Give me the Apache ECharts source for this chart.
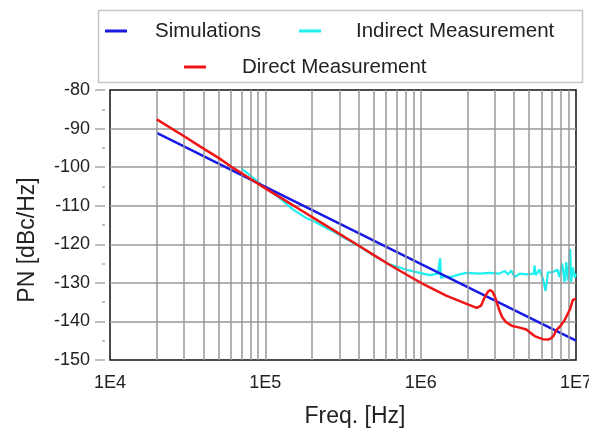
<!DOCTYPE html>
<html>
<head>
<meta charset="utf-8">
<script src="https://cdn.jsdelivr.net/npm/echarts@6/dist/echarts.min.js"></script>
<style>html,body{margin:0;padding:0;background:#fff}#c{width:589px;height:431px}</style>
</head>
<body>
<div id="c"></div>
<script>
// ---- data ----
const xTickLabels = ['1E4', '1E5', '1E6', '1E7'];
const yTicks = [-150, -140, -130, -120, -110, -100, -90, -80];

const simFreq = [2e4, 1e5, 1e6, 1e7];
const simPN   = [-91.1, -105.1, -125.1, -145.0];

const directFreq = [2.0e4, 3.0e4, 4.0e4, 5.0e4, 6.2e4, 8.0e4, 1.0e5, 1.3e5, 1.75e5, 2.36e5,
  3.0e5, 3.86e5, 5.0e5, 6.3e5, 8.9e5, 1.04e6, 1.46e6, 2.01e6, 2.3e6, 2.45e6,
  2.6e6, 2.72e6, 2.81e6, 2.9e6, 3.0e6, 3.1e6, 3.2e6, 3.35e6, 3.55e6, 3.9e6,
  4.34e6, 4.79e6, 5.41e6, 6.12e6, 6.6e6, 6.92e6, 7.2e6, 7.46e6, 8.0e6, 8.44e6,
  9.18e6, 9.53e6, 1.0e7];
const directPN = [-87.6, -92.0, -95.2, -97.6, -100.2, -103.0, -105.5, -108.3, -111.5, -114.7,
  -117.3, -120.0, -122.8, -125.3, -128.8, -130.3, -133.3, -135.6, -136.5, -135.9,
  -133.5, -132.2, -131.9, -132.3, -133.5, -135.2, -137.0, -138.9, -140.2, -141.2,
  -141.6, -142.1, -143.8, -144.6, -144.7, -144.4, -143.6, -142.3, -141.0, -139.7,
  -136.7, -134.5, -134.1];

const indirectFreq = [7.0e4, 7.9e4, 9.7e4, 1.2e5, 1.51e5, 1.84e5, 2.1e5, 2.4e5, 2.8e5, 3.3e5,
  3.9e5, 4.6e5, 5.44e5, 6.3e5, 8.1e5, 9.86e5, 1.14e6, 1.29e6, 1.32e6, 1.335e6,
  1.35e6, 1.46e6, 1.57e6, 1.78e6, 1.97e6, 2.39e6, 2.76e6, 3.22e6, 3.47e6, 3.65e6,
  3.83e6, 4.02e6, 4.34e6, 4.79e6, 5.35e6, 5.41e6, 5.5e6, 5.82e6, 6.12e6, 6.37e6,
  6.6e6, 7.1e6, 7.6e6, 7.8e6, 8.15e6, 8.44e6, 8.65e6, 8.87e6, 9.18e6, 9.3e6,
  9.53e6, 9.8e6, 1.0e7];
const indirectPN = [-100.3, -102.0, -105.0, -107.6, -111.0, -113.2, -114.2, -115.5, -116.9, -118.6,
  -120.2, -122.0, -123.8, -125.2, -126.6, -127.4, -128.0, -127.6, -127.8, -123.6,
  -128.7, -128.3, -128.5, -127.8, -127.4, -127.6, -127.4, -127.6, -126.9, -127.8,
  -126.8, -128.5, -127.6, -127.8, -127.6, -125.5, -128.0, -126.6, -128.9, -132.1,
  -127.3, -127.2, -126.6, -128.5, -125.0, -129.8, -124.6, -129.4, -121.2, -129.8,
  -126.0, -128.6, -127.6];

const seriesNames = ['Simulations', 'Indirect Measurement', 'Direct Measurement'];

// minor log grid positions (2..9 within each decade)
const decades = [1e4, 1e5, 1e6];
const minorMultipliers = [2, 3, 4, 5, 6, 7, 8, 9];
const minorGrid = [];
decades.forEach(d => minorMultipliers.forEach(m => minorGrid.push({ xAxis: d * m })));

const zip = (a, b) => a.map((v, i) => [v, b[i]]);
const FONT = '"Liberation Sans", Arial, sans-serif';
const GRID_COLOR = '#999';

const chart = echarts.init(document.getElementById('c'), null, { renderer: 'canvas' });
chart.setOption({
  animation: false,
  backgroundColor: '#fff',
  textStyle: { fontFamily: FONT },
  graphic: [{
    type: 'rect', z: 0,
    shape: { x: 98.5, y: 10.5, width: 484, height: 72 },
    style: { fill: '#fff', stroke: '#c6c6c6', lineWidth: 1.5 }
  }],
  legend: [
    { data: [seriesNames[0]], left: 105, top: 19, padding: 0, icon: 'rect', itemWidth: 22, itemHeight: 3,
      textStyle: { fontSize: 20.5, color: '#222', fontFamily: FONT, lineHeight: 24, padding: [0, 0, 0, 23] } },
    { data: [seriesNames[1]], left: 299, top: 19, padding: 0, icon: 'rect', itemWidth: 22, itemHeight: 3,
      textStyle: { fontSize: 20.5, color: '#222', fontFamily: FONT, lineHeight: 24, padding: [0, 0, 0, 30] } },
    { data: [seriesNames[2]], left: 184, top: 55, padding: 0, icon: 'rect', itemWidth: 22, itemHeight: 3,
      textStyle: { fontSize: 20.5, color: '#222', fontFamily: FONT, lineHeight: 24, padding: [0, 0, 0, 31] } }
  ],
  grid: {
    left: 110, right: 13, top: 90, bottom: 71,
    outerBoundsMode: 'none', containLabel: false,
    show: true, borderColor: '#111', borderWidth: 1.5, backgroundColor: 'transparent'
  },
  xAxis: {
    type: 'log', logBase: 10, min: 1e4, max: 1e7,
    name: 'Freq. [Hz]', nameLocation: 'middle', nameGap: 45,
    nameTextStyle: { fontSize: 23, color: '#222', fontFamily: FONT, padding: [0, 0, 0, 24] },
    axisLine: { show: false },
    axisTick: { show: false },
    axisLabel: {
      fontSize: 18, color: '#222', fontFamily: FONT, margin: 14,
      formatter: v => xTickLabels[Math.round(Math.log10(v)) - 4]
    },
    splitLine: { show: true, showMinLine: false, showMaxLine: false, lineStyle: { color: GRID_COLOR, width: 1.5 } }
  },
  yAxis: {
    type: 'value', min: yTicks[0], max: yTicks[yTicks.length - 1], interval: 10,
    offset: 5,
    name: 'PN [dBc/Hz]', nameLocation: 'middle', nameGap: 66,
    nameTextStyle: { fontSize: 23, color: '#222', fontFamily: FONT, padding: [0, 30, 0, 0] },
    axisLine: { show: false },
    axisTick: { show: true, length: 10, lineStyle: { color: '#aaa', width: 1.5 } },
    minorTick: { show: true, splitNumber: 2, length: 3, lineStyle: { color: '#aaa', width: 1.5 } },
    axisLabel: { fontSize: 18, color: '#222', fontFamily: FONT, margin: 15, padding: [0, 0, 8, 0] },
    splitLine: { show: true, showMinLine: false, showMaxLine: false, lineStyle: { color: GRID_COLOR, width: 1.5 } }
  },
  series: [
    {
      type: 'line', name: '_minorgrid', data: [], silent: true, z: 1,
      markLine: {
        silent: true, symbol: ['none', 'none'], label: { show: false }, animation: false,
        lineStyle: { color: GRID_COLOR, width: 1.5, type: 'solid' },
        emphasis: { disabled: true },
        data: minorGrid
      }
    },
    {
      type: 'line', name: seriesNames[1], data: zip(indirectFreq, indirectPN), z: 3,
      showSymbol: false, symbol: 'none', color: '#1ef0f0',
      lineStyle: { width: 2.2, color: '#1ef0f0' }
    },
    {
      type: 'line', name: seriesNames[0], data: zip(simFreq, simPN), z: 4,
      showSymbol: false, symbol: 'none', color: '#1a1ae6',
      lineStyle: { width: 2.5, color: '#1a1ae6' }
    },
    {
      type: 'line', name: seriesNames[2], data: zip(directFreq, directPN), z: 5,
      showSymbol: false, symbol: 'none', color: '#f01515',
      lineStyle: { width: 2.5, color: '#f01515' }
    }
  ]
});
</script>
</body>
</html>
